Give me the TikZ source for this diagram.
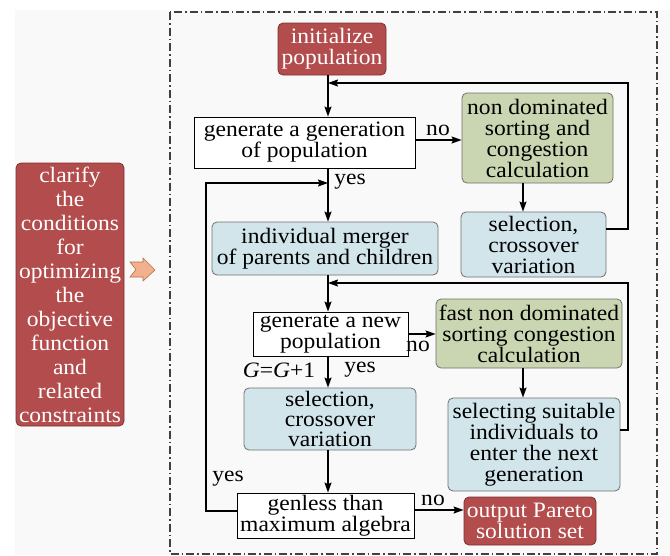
\documentclass[tikz,border=0pt]{standalone}
\usepackage{fontspec}
\setmainfont[FakeStretch=1.07]{Liberation Serif}
\usetikzlibrary{arrows.meta,calc}
\definecolor{redfill}{HTML}{B34D4D}
\definecolor{redline}{HTML}{7E3030}
\definecolor{bluefill}{HTML}{D1E5EB}
\definecolor{greenfill}{HTML}{CAD6B1}
\definecolor{boxline}{HTML}{6F6F6F}
\definecolor{bggray}{HTML}{F9F9F9}
\definecolor{orangefill}{HTML}{F2B08C}
\definecolor{orangeline}{HTML}{B8704E}
\tikzset{
  txt/.style={font=\fontsize{22}{21}\selectfont, align=center, inner sep=0pt},
  redbox/.style={txt, fill=redfill, draw=redline, line width=0.8pt, rounded corners=5pt, text=white},
  bluebox/.style={txt, fill=bluefill, draw=boxline, line width=0.8pt, rounded corners=5pt},
  greenbox/.style={txt, fill=greenfill, draw=boxline, line width=0.8pt, rounded corners=5pt},
  whitebox/.style={txt, fill=white, draw=black, line width=0.8pt},
  lbl/.style={font=\fontsize{22}{21}\selectfont, inner sep=0pt},
  arr/.style={line width=1.3pt, -{Stealth[length=10pt,width=7pt,inset=1.5pt]}},
}
\begin{document}
\begin{tikzpicture}[x=1pt,y=-1pt]
\useasboundingbox (0,0) rectangle (670,555);
\fill[white] (0,0) rectangle (670,555);
\fill[bggray] (15,10) rectangle (670,555);
\draw[line width=1.1pt, color=black!75, dash pattern=on 8pt off 3pt on 1.5pt off 3pt] (170,12) rectangle (657,554);

% nodes
\node[redbox, minimum width=108pt, minimum height=52pt] (init) at (332,49) {initialize\\population};
\node[whitebox, minimum width=221pt, minimum height=51pt] (gen1) at (304.5,142.5) {generate a generation\\of population};
\node[greenbox, minimum width=151pt, minimum height=90pt] (nds) at (537.5,138) {non dominated\\sorting and\\congestion\\calculation};
\node[bluebox, minimum width=145pt, minimum height=65pt] (sel1) at (533.5,244.5) {selection,\\crossover\\variation};
\node[bluebox, minimum width=226pt, minimum height=53pt] (merge) at (325,248.5) {individual merger\\of parents and children};
\node[redbox, minimum width=108pt, minimum height=263pt, font=\fontsize{22}{24}\selectfont] (clar) at (70,294.5) {clarify\\the\\conditions\\for\\optimizing\\the\\objective\\function\\and\\related\\constraints};
\node[whitebox, minimum width=155pt, minimum height=44pt, font=\fontsize{22}{19.5}\selectfont] (gennew) at (330.5,334) {generate a new\\population};
\node[greenbox, minimum width=186pt, minimum height=69pt] (fast) at (529,333.5) {fast non dominated\\sorting congestion\\calculation};
\node[bluebox, minimum width=172pt, minimum height=62pt, font=\fontsize{22}{20}\selectfont] (sel2) at (330,419) {selection,\\crossover\\variation};
\node[bluebox, minimum width=172pt, minimum height=93pt] (selg) at (534,444.5) {selecting suitable\\individuals to\\enter the next\\generation};
\node[whitebox, minimum width=177pt, minimum height=45pt, font=\fontsize{22}{19}\selectfont] (genless) at (325.5,515.5) {genless than\\maximum algebra};
\node[redbox, minimum width=132pt, minimum height=48pt] (out) at (530,521) {output Pareto\\solution set};

% orange block arrow
\filldraw[fill=orangefill, draw=orangeline, line width=0.6pt]
  (130,262) -- (143,262) -- (143,258) -- (155,270) -- (143,281) -- (143,277) -- (130,277) -- (136,269.5) -- cycle;

% coordinates
\coordinate (cx) at (328,0);
\coordinate (fb1) at (628,229);
\coordinate (fb1t) at (328,83);
\coordinate (fb2) at (628,430);
\coordinate (fb2t) at (328,283);
\coordinate (lp) at (206,511);
\coordinate (lpt) at (328,183);
\coordinate (rx) at (523,0);

% main column
\draw[arr] (init.south -| cx) -- (gen1.north -| cx);
\draw[arr] (gen1.south -| cx) -- (merge.north -| cx);
\draw[arr] (merge.south -| cx) -- (gennew.north -| cx);
\draw[arr] (gennew.south -| cx) -- (sel2.north -| cx);
\draw[arr] (sel2.south -| cx) -- (genless.north -| cx);

% side branches
\coordinate (y140) at (0,140);
\draw[arr] (gen1.east |- y140) -- (nds.west |- y140);
\draw[arr] (nds.south -| rx) -- (sel1.north -| rx);
\coordinate (y333) at (0,334);
\draw[arr] (gennew.east |- y333) -- (fast.west |- y333);
\draw[arr] (fast.south -| rx) -- (selg.north -| rx);
\coordinate (y510) at (0,510);
\draw[arr] (genless.east |- y510) -- (out.west |- y510);

% feedback loops
\draw[arr] (sel1.east |- fb1) -- (fb1) |- (fb1t);
\draw[arr] (selg.east |- fb2) -- (fb2) |- (fb2t);
\draw[arr] (genless.west |- lp) -- (lp) |- (lpt);

% labels
\node[lbl] (no1) at (438,130) {no};
\node[lbl] (yes1) at (350,182) {yes};
\node[lbl] (no2) at (418,346) {no};
\node[lbl] (gg) at (279,370) {\textit{G}=\textit{G}+1};
\node[lbl] (yes2) at (360,370) {yes};
\node[lbl] (yes3) at (228,479) {yes};
\node[lbl] (no3) at (433,500) {no};
\end{tikzpicture}
\end{document}
